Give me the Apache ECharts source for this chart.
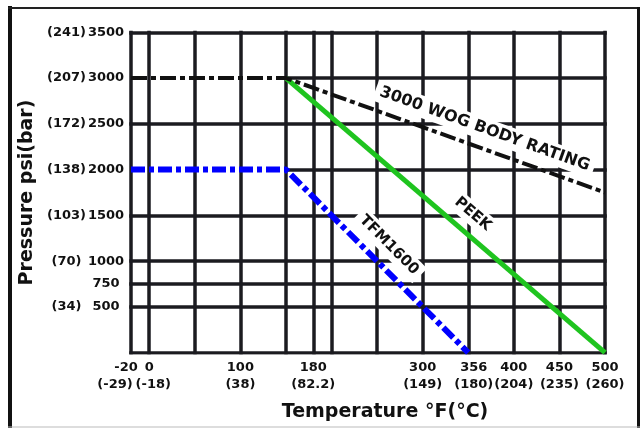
<!DOCTYPE html>
<html><head><meta charset="utf-8">
<script src="https://cdn.jsdelivr.net/npm/echarts@6/dist/echarts.min.js"></script>
<style>html,body{margin:0;padding:0;background:#fff}#c{width:643px;height:428px}</style>
</head><body><div id="c"></div>
<script>
// ---- data ----
const xTicksF = [-20, 0, 100, 180, 300, 356, 400, 450, 500];
const xTicksC = ['(-29)', '(-18)', '(38)', '(82.2)', '(149)', '(180)', '(204)', '(235)', '(260)'];
const yTicksPsi = [500, 750, 1000, 1500, 2000, 2500, 3000, 3500];
const yTicksBar = ['(34)', '', '(70)', '(103)', '(138)', '(172)', '(207)', '(241)'];
const vGrid = [-20, 0, 50, 100, 150, 180, 200, 250, 300, 350, 400, 450, 500];
const hGridFull = [0, 500, 750, 1000, 1500, 2500, 3500];
const hGridPartial = [2000, 3000];
const partialFromF = 150;
const wogF = [-20, 150, 500];
const wogPsi = [3000, 3000, 1750];
const tfmF = [-20, 150, 350];
const tfmPsi = [2000, 2000, 0];
const peekF = [150, 500];
const peekPsi = [3000, 0];
// label anchors (data space)
const wogLabel = {text: '3000 WOG BODY RATING', at: [368, 2442]};
const peekLabel = {text: 'PEEK', at: [355, 1514]};
const tfmLabel = {text: 'TFM1600', at: [263, 1176]};

const X_MIN = -20, X_MAX = 500, Y_MIN = 0, Y_MAX = 3500;
const FONT = '"DejaVu Sans", sans-serif';
const GRID_COLOR = '#1b1b20';
const TXT = '#111';

const zip = (a, b) => a.map((v, i) => [v, b[i]]);
const gridSegs = [];
vGrid.forEach(x => gridSegs.push({coords: [[x, Y_MIN], [x, Y_MAX]]}));
hGridFull.forEach(y => gridSegs.push({coords: [[X_MIN, y], [X_MAX, y]]}));
hGridPartial.forEach(y => gridSegs.push({coords: [[partialFromF, y], [X_MAX, y]]}));

// 0°F label drawn on a second, overlapping bottom axis so it is not hidden by the -20 label
const xTicksMain = xTicksF.filter(v => v !== 0);
const xTicksAux = xTicksF.filter(v => v === 0);

const tickStyle = {fontFamily: FONT, fontWeight: 'bold', fontSize: 13, color: TXT, lineHeight: 17};
const richX = {
  n: tickStyle,
  l1: Object.assign({}, tickStyle, {padding: [0, 10, 0, 0]}),
  l2: Object.assign({}, tickStyle, {padding: [0, 32, 0, 0]}),
  r1: Object.assign({}, tickStyle, {padding: [0, 0, 0, 8]})
};
const fmtX = v => {
  const i = xTicksF.indexOf(v);
  if (v === -20) return '{l1|' + v + '}\n{l2|' + xTicksC[i] + '}';
  if (v === 0) return '{n|' + v + '}\n{r1|' + xTicksC[i] + '}';
  return '{n|' + v + '}\n{n|' + xTicksC[i] + '}';
};
const baseX = {
  type: 'value', min: X_MIN, max: X_MAX, gridIndex: 0, position: 'bottom',
  axisLine: {show: false}, axisTick: {show: false}, splitLine: {show: false}
};

const chart = echarts.init(document.getElementById('c'), null, {renderer: 'canvas'});
chart.setOption({
  animation: false,
  backgroundColor: '#fff',
  grid: {left: 131, right: 38, top: 32.3, bottom: 75.3, containLabel: false},
  xAxis: [
    Object.assign({}, baseX, {
      name: 'Temperature °F(°C)', nameLocation: 'middle', nameGap: 50,
      nameTextStyle: {fontFamily: FONT, fontWeight: 'bold', fontSize: 19, color: TXT, padding: [0, 0, 0, 34]},
      axisLabel: {customValues: xTicksMain, margin: 6, showMinLabel: true, showMaxLabel: true,
                  hideOverlap: false, formatter: fmtX, rich: richX}
    }),
    Object.assign({}, baseX, {
      axisLabel: {customValues: xTicksAux, margin: 6, showMinLabel: true, showMaxLabel: true,
                  hideOverlap: false, formatter: fmtX, rich: richX}
    })
  ],
  yAxis: {
    type: 'value', min: Y_MIN, max: Y_MAX,
    name: 'Pressure psi(bar)', nameLocation: 'middle', nameGap: 93, nameRotate: 90,
    nameTextStyle: {fontFamily: FONT, fontWeight: 'bold', fontSize: 19, color: TXT},
    axisLine: {show: false}, axisTick: {show: false}, splitLine: {show: false},
    axisLabel: {
      customValues: yTicksPsi, margin: 6, showMinLabel: true, showMaxLabel: true, hideOverlap: false,
      formatter: v => { const i = yTicksPsi.indexOf(v); return '{a|' + (yTicksBar[i] || ' ') + '}{b|' + v + '}'; },
      rich: {
        a: {width: 41, align: 'center', fontFamily: FONT, fontWeight: 'bold', fontSize: 13, color: TXT},
        b: {width: 38, align: 'center', fontFamily: FONT, fontWeight: 'bold', fontSize: 13, color: TXT}
      }
    }
  },
  series: [
    {type: 'lines', coordinateSystem: 'cartesian2d', z: 1, silent: true,
     lineStyle: {color: GRID_COLOR, width: 3.5, opacity: 1, cap: 'square'}, data: gridSegs},
    {type: 'line', name: 'PEEK', z: 10, symbol: 'none', data: zip(peekF, peekPsi),
     lineStyle: {color: '#1fc41f', width: 5}},
    {type: 'line', name: '3000 WOG', z: 11, symbol: 'none', data: zip(wogF, wogPsi),
     lineStyle: {color: '#111', width: 4, type: [16, 4, 5, 4]}},
    {type: 'line', name: 'TFM1600', z: 11, symbol: 'none', data: zip(tfmF, tfmPsi),
     lineStyle: {color: '#0000ff', width: 6, type: [14, 4, 5, 4]}}
  ]
});

function px(p) { return chart.convertToPixel({gridIndex: 0}, p); }
function angleOf(xs, ys, i) {
  const a = px([xs[i], ys[i]]), b = px([xs[i + 1], ys[i + 1]]);
  return Math.atan2(-(b[1] - a[1]), b[0] - a[0]);
}
function textEl(lbl, rot, size) {
  const p = px(lbl.at);
  return {
    type: 'text', x: p[0], y: p[1], rotation: rot, z: 5,
    style: {
      text: lbl.text, fill: TXT, font: 'bold ' + size + 'px ' + FONT,
      align: 'center', verticalAlign: 'middle',
      backgroundColor: '#fff', padding: [3, 5]
    }
  };
}
const W = 643, H = 428;
chart.setOption({
  graphic: {elements: [
    textEl(wogLabel, angleOf(wogF, wogPsi, 1), 16),
    textEl(peekLabel, angleOf(peekF, peekPsi, 0), 15),
    textEl(tfmLabel, angleOf(tfmF, tfmPsi, 1), 15),
    {type: 'line', z: 20, shape: {x1: 10, y1: 6, x2: 10, y2: H}, style: {stroke: '#111', lineWidth: 4}},
    {type: 'line', z: 20, shape: {x1: 8, y1: 8, x2: 640, y2: 8}, style: {stroke: '#222', lineWidth: 2}},
    {type: 'line', z: 20, shape: {x1: 638.5, y1: 7, x2: 638.5, y2: H}, style: {stroke: '#111', lineWidth: 3}},
    {type: 'line', z: 20, shape: {x1: 8, y1: 427, x2: 640, y2: 427}, style: {stroke: '#bbb', lineWidth: 1}}
  ]}
});
</script>
</body></html>
